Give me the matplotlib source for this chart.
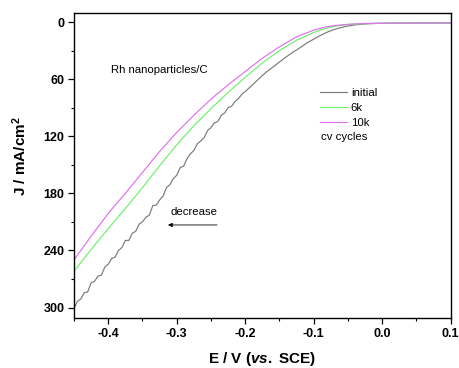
import matplotlib
matplotlib.use("Agg")
import matplotlib.pyplot as plt
from matplotlib.ticker import MultipleLocator, FixedLocator

plt.rcParams['font.family'] = ['Liberation Sans', 'DejaVu Sans']
plt.rcParams['axes.unicode_minus'] = False
plt.rcParams['mathtext.fontset'] = 'custom'
plt.rcParams['mathtext.rm'] = 'Liberation Sans:bold'
plt.rcParams['mathtext.it'] = 'Liberation Sans:bold:italic'
plt.rcParams['mathtext.bf'] = 'Liberation Sans:bold'

# ---- data ----
E_gray = [-0.450, -0.445, -0.440, -0.435, -0.430, -0.425, -0.420, -0.415, -0.410, -0.405,
          -0.400, -0.395, -0.390, -0.385, -0.380, -0.375, -0.370, -0.365, -0.360, -0.355,
          -0.350, -0.345, -0.340, -0.335, -0.330, -0.325, -0.320, -0.315, -0.310, -0.305,
          -0.300, -0.295, -0.290, -0.285, -0.280, -0.275, -0.270, -0.265, -0.260, -0.255,
          -0.250, -0.245, -0.240, -0.235, -0.230, -0.225, -0.220, -0.215, -0.210, -0.205,
          -0.200, -0.19, -0.18, -0.17, -0.16, -0.15, -0.14, -0.13, -0.12, -0.11,
          -0.10, -0.09, -0.08, -0.07, -0.06, -0.05, -0.04, -0.03, -0.02, -0.01,
          0.0, 0.02, 0.05, 0.10]
J_initial = [301, 293.5, 291, 284.5, 283.5, 274, 272.5, 267, 266, 257.5,
             254.5, 248.5, 247, 240, 237, 229.5, 229.5, 222, 220, 212.5,
             210, 205, 203, 193, 192.5, 187, 183, 174, 171, 164.5,
             161, 153, 151.5, 143.5, 138.5, 135, 128, 125, 121.5, 114,
             111, 106, 104.5, 98, 95.5, 90, 88.5, 83.5, 80.5, 76,
             73, 66.5, 59.5, 53, 47.5, 42, 36.5, 31.5, 27, 22,
             18, 14, 10.5, 7.8, 5.8, 4.2, 3.0, 2.3, 1.8, 1.5,
             1.3, 1.1, 1.0, 1.0]

E_fine = [-0.45, -0.425, -0.40, -0.375, -0.35, -0.325, -0.30, -0.275, -0.25, -0.225,
          -0.20, -0.175, -0.15, -0.125, -0.10, -0.09, -0.08, -0.07, -0.06, -0.05,
          -0.04, -0.03, -0.02, 0.0, 0.05, 0.10]
J_6k = [262, 239, 217, 196, 174, 151, 129, 109, 91, 74,
        58, 43, 30, 19, 11, 8.3, 6.2, 4.6, 3.5, 2.7,
        2.1, 1.8, 1.6, 1.3, 1.1, 1.0]
J_10k = [250, 225, 201, 180, 158, 136, 116, 98, 81, 66,
         52, 38, 26, 15.5, 8.5, 6.5, 4.9, 3.8, 3.0, 2.4,
         2.0, 1.7, 1.5, 1.3, 1.1, 1.0]

labels = ['initial', '6k', '10k']
colors = ['#7a7a7a', '#6cf06c', '#e070f0']

y_ticks = [0, 60, 120, 180, 240, 300]
x_ticks = [-0.4, -0.3, -0.2, -0.1, 0.0, 0.1]

# ---- figure ----
fig = plt.figure(figsize=(4.59, 3.68), dpi=100)
ax = fig.add_axes([0.1612, 0.1359, 0.8208, 0.8288])

ax.plot(E_gray, J_initial, color=colors[0], lw=0.85, label=labels[0])
ax.plot(E_fine, J_6k, color=colors[1], lw=0.85, label=labels[1])
ax.plot(E_fine, J_10k, color=colors[2], lw=0.85, label=labels[2])

ax.set_xlim(-0.45, 0.1)
ax.set_ylim(311, -9.5)

ax.xaxis.set_major_locator(FixedLocator(x_ticks))
ax.xaxis.set_minor_locator(MultipleLocator(0.05))
ax.yaxis.set_major_locator(FixedLocator(y_ticks))
ax.yaxis.set_minor_locator(MultipleLocator(30))
ax.set_xticklabels(['%.1f' % v for v in x_ticks])
ax.set_yticklabels([str(v) for v in y_ticks])

ax.tick_params(axis='both', which='major', direction='out', length=4, width=0.9,
               labelsize=9, pad=3, top=False, right=False)
ax.tick_params(axis='both', which='minor', direction='out', length=2.5, width=0.8,
               top=False, right=False)
for lab in ax.get_xticklabels() + ax.get_yticklabels():
    lab.set_fontweight('bold')
for sp in ax.spines.values():
    sp.set_linewidth(1.0)

ax.set_xlabel(r'E / V ($\mathit{vs.}$ SCE)', fontsize=11, fontweight='bold')
ax.set_ylabel(r'J / mA/cm$^{2}$', fontsize=11, fontweight='bold')
ax.xaxis.set_label_coords(0.5, -0.105)
ax.yaxis.set_label_coords(-0.12, 0.53)

ax.text(0.098, 0.813, 'Rh nanoparticles/C', transform=ax.transAxes,
        fontsize=8.2, ha='left', va='center')

leg = ax.legend(loc='upper left', bbox_to_anchor=(0.653, 0.754), frameon=False,
                fontsize=8.2, handlelength=2.4, handletextpad=0.3,
                labelspacing=0.45, borderpad=0, borderaxespad=0)

ax.text(0.656, 0.595, 'cv cycles', transform=ax.transAxes, fontsize=8.2,
        ha='left', va='center')

ax.text(0.3186, 0.3475, 'decrease', transform=ax.transAxes, fontsize=8.2,
        ha='center', va='center')
ax.annotate('', xy=(0.2495, 0.305), xytext=(0.3796, 0.305),
            xycoords='axes fraction', textcoords='axes fraction',
            arrowprops=dict(arrowstyle='-|>', color='black', lw=0.6,
                            mutation_scale=6, shrinkA=0, shrinkB=0))

fig.savefig('out.png', dpi=100)
